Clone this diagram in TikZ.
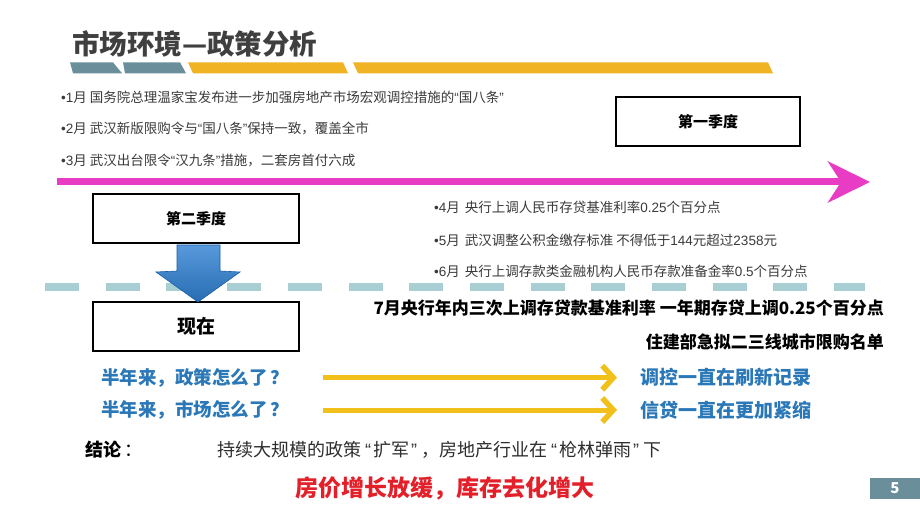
\documentclass[tikz,border=0pt]{standalone}
\usepackage{fontspec}
\setmainfont{Noto Sans CJK SC}
\newfontfamily\latf{Liberation Sans}
\usetikzlibrary{arrows.meta}
\definecolor{titlegray}{HTML}{3F3F3F}
\definecolor{stripegray}{HTML}{6B8F9A}
\definecolor{stripeyellow}{HTML}{F0B323}
\definecolor{bodygray}{HTML}{3A3A3A}
\definecolor{tlmagenta}{HTML}{E93CC5}
\definecolor{dashteal}{HTML}{A8CFD3}
\definecolor{qblue}{HTML}{2A78B8}
\definecolor{arrowblue}{HTML}{2E80D2}
\definecolor{arrowblueedge}{HTML}{1B5EA6}
\definecolor{gold}{HTML}{F2C01A}
\definecolor{concred}{HTML}{E3202A}
\newcommand{\myLq}{{\latf “}}
\newcommand{\myRq}{{\latf ”}}
\newcommand{\myWLq}{\hspace{4pt}{\latf “}\hspace{2pt}}
\newcommand{\myWRq}{\hspace{2pt}{\latf ”}\hspace{4pt}}
\newcommand{\myBul}{{\latf •}}
\tikzset{
  txt/.style={inner sep=0pt, anchor=west},
  bullet/.style={txt, text=bodygray, font=\fontsize{13.5}{15}\selectfont},
  boldline/.style={inner sep=0pt, anchor=east, text=black, font=\bfseries\fontsize{17}{19}\selectfont},
  qbox/.style={draw=black, line width=2pt, fill=white, font=\bfseries\fontsize{15}{17}\selectfont, inner sep=0pt},
  question/.style={txt, text=qblue, font=\bfseries\fontsize{18.5}{21}\selectfont},
  answer/.style={txt, text=qblue, font=\bfseries\fontsize{19}{21}\selectfont},
  goldarrow/.style={draw=gold, line width=5pt, -{Straight Barb[length=11pt, width=24pt, line width=5.5pt]}},
}
\begin{document}
\begin{tikzpicture}[x=1pt,y=-1pt]
\useasboundingbox (0,0) rectangle (920,518);
\fill[white] (0,0) rectangle (920,518);

% title
\node[txt, text=titlegray, font=\bfseries\fontsize{27.5}{30}\selectfont] (title) at (72,44) {市场环境—政策分析};

% stripes
\fill[stripegray] (70,62.3) -- (113,62.3) -- (122,73.3) -- (73,73.3) -- cycle;
\fill[stripegray] (123,62.3) -- (180,62.3) -- (186,73.3) -- (125,73.3) -- cycle;
\fill[stripeyellow] (188,62.3) -- (343,62.3) -- (348,73.3) -- (193,73.3) -- cycle;
\fill[stripeyellow] (353,62.3) -- (768,62.3) -- (773,73.3) -- (358,73.3) -- cycle;

% first quarter bullets
\node[bullet] (b1) at (61,97) {\myBul{\latf 1}月 国务院总理温家宝发布进一步加强房地产市场宏观调控措施的\myLq 国八条\myRq};
\node[bullet] (b2) at (61,128) {\myBul{\latf 2}月 武汉新版限购令与\myLq 国八条\myRq 保持一致，覆盖全市};
\node[bullet] (b3) at (61,161) {\myBul{\latf 3}月 武汉出台限令\myLq 汉九条\myRq 措施，二套房首付六成};

\node[qbox, minimum width=184pt, minimum height=49pt] (q1) at (708,121.5) {第一季度};

% timeline arrow
\coordinate (tl0) at (57,182);
\coordinate (tl1) at (870,182);
\draw[tlmagenta, line width=7pt, -{Stealth[length=42pt, width=41pt, inset=13pt]}] (tl0) -- (tl1);

% second quarter
\node[qbox, minimum width=206pt, minimum height=49pt] (q2) at (196,218.5) {第二季度};
\node[bullet] (b4) at (434,207) {\myBul{\latf 4}月\hspace{5pt}央行上调人民币存贷基准利率{\latf 0.25}个百分点};
\node[bullet] (b5) at (434,240) {\myBul{\latf 5}月\hspace{5pt}武汉调整公积金缴存标准 不得低于{\latf 144}元超过{\latf 2358}元};
\node[bullet] (b6) at (434,271) {\myBul{\latf 6}月\hspace{5pt}央行上调存款类金融机构人民币存款准备金率{\latf 0.5}个百分点};

% dashed separator
\coordinate (dl0) at (45,287);
\coordinate (dl1) at (865,287);
\draw[dashteal, line width=7.5pt, dash pattern=on 34pt off 26.7pt] (dl0) -- (dl1);

% now box
\node[qbox, minimum width=206pt, minimum height=49pt, font=\bfseries\fontsize{19}{21}\selectfont] (now) at (196,326.5) {现在};

% blue block arrow
\shade[top color=arrowblue!80!white, bottom color=arrowblue!85!black, draw=arrowblueedge, line width=0.6pt]
  (177,245) -- (220,245) -- (220,271) -- (240,272) -- (198,302) -- (156,272) -- (177,271) -- cycle;

% July lines
\node[boldline] (j1) at (884,308) {7月央行年内三次上调存贷款基准利率 一年期存贷上调0.25个百分点};
\node[boldline] (j2) at (884,342) {住建部急拟二三线城市限购名单};

% questions and answers
\node[question] (qa) at (101,377.5) {半年来，政策怎么了\hspace{3pt}？};
\node[question] (qb) at (101,410) {半年来，市场怎么了\hspace{3pt}？};
\node[answer] (aa) at (640,377.5) {调控一直在刷新记录};
\node[answer] (ab) at (640,410) {信贷一直在更加紧缩};
\coordinate (ga0) at (323,377.7);
\coordinate (ga1) at (617,377.7);
\coordinate (gb0) at (323,410);
\coordinate (gb1) at (617,410);
\draw[goldarrow] (ga0) -- (ga1);
\draw[goldarrow] (gb0) -- (gb1);

% conclusion
\node[txt, font=\fontsize{18}{20}\selectfont, text=black] (conc) at (85,450) {\textbf{结论}\hspace{3pt}：};
\node[txt, font=\fontsize{18}{20}\selectfont, text=bodygray!80!black] (concbody) at (217,450) {持续大规模的政策\myWLq 扩军\myWRq ，房地产行业在\myWLq 枪林弹雨\myWRq 下};
\node[txt, font=\bfseries\fontsize{23}{25}\selectfont, text=concred] (red) at (295,488) {房价增长放缓，库存去化增大};

% page number
\node[fill=stripegray, minimum width=50pt, minimum height=21pt, inner sep=0pt, text=white, font=\bfseries\fontsize{15}{17}\selectfont] (pg) at (895,488) {5};
\end{tikzpicture}
\end{document}
